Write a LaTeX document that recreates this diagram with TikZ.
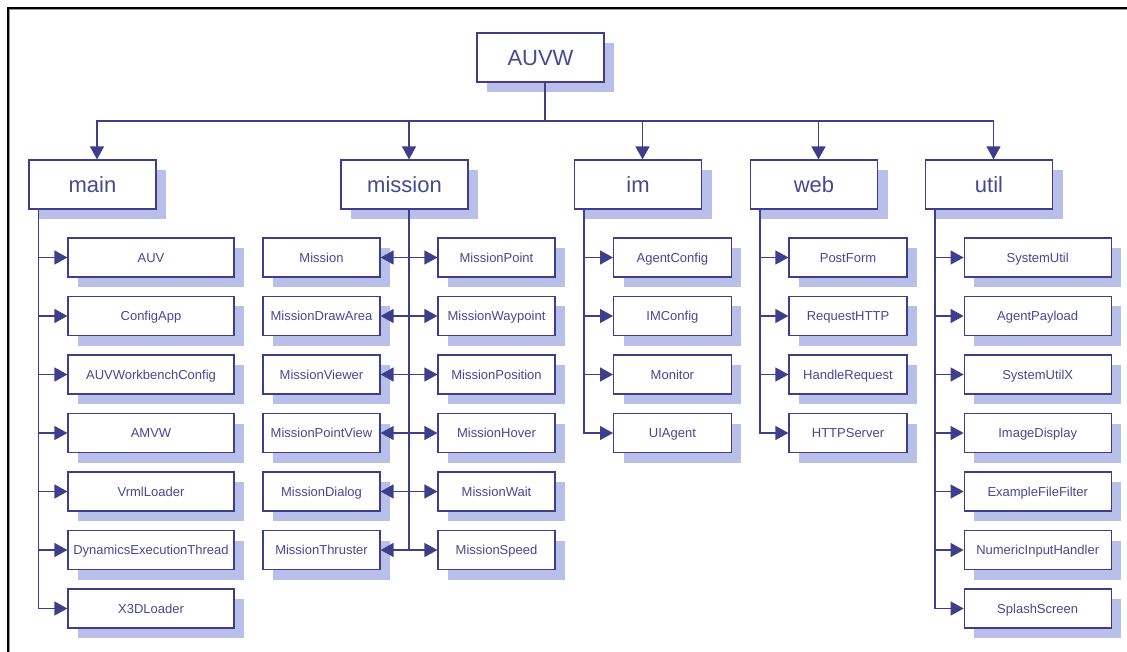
\documentclass[tikz,border=0pt]{standalone}
\usepackage{fontspec}
\setmainfont{Liberation Sans}
\usetikzlibrary{arrows.meta,shadows,calc}
\definecolor{navy}{RGB}{62,62,140}
\definecolor{shade}{RGB}{184,192,234}
\definecolor{txt}{RGB}{72,72,146}
\begin{document}
\begin{tikzpicture}[x=1pt,y=-1pt,
  box/.style={draw=navy,line width=1.2pt,fill=white,text=txt,inner sep=0pt,
     drop shadow={shadow xshift=10pt,shadow yshift=-10pt,fill=shade,opacity=1}},
  pkg/.style={box,minimum width=127pt,minimum height=49pt,font=\fontsize{22}{26}\selectfont,
     text height=15.8pt,text depth=0pt},
  cls/.style={box,minimum width=117pt,minimum height=39pt,font=\fontsize{13}{15}\selectfont,
     text height=9.3pt,text depth=0pt},
  link/.style={draw=navy,line width=1.3pt},
  arr/.style={link,-{Triangle[length=13pt,width=14pt]}},
]
\useasboundingbox (0,0) rectangle (1127,652);
\fill[white] (0,0) rectangle (1127,652);
% frame
\draw[black!40,line width=1pt] (9.5,652) -- (9.5,9.5) -- (1127,9.5);
\draw[black,line width=2pt] (8,652) -- (8,8) -- (1127,8);

% top and packages
\node[pkg] (auvw) at (540.5,57.5) {AUVW};
\node[pkg] (main) at (92.5,184.5) {main};
\node[pkg] (mission) at (404.5,184.5) {mission};
\node[pkg] (im) at (638,184.5) {im};
\node[pkg] (web) at (814,184.5) {web};
\node[pkg] (util) at (989,184.5) {util};

\coordinate (busc) at (545,121);
\draw[link] ($(auvw.south)+(4.5,0)$) -- (busc);
\foreach \p in {main,mission,im,web,util}{
  \draw[arr] (busc) -| ($(\p.north)+(4.5,0)$);
}

% roots of the branch lines
\coordinate (mainroot) at ($(main.south west)+(10,0)$);
\coordinate (imroot) at ($(im.south west)+(10,0)$);
\coordinate (webroot) at ($(web.south west)+(10,0)$);
\coordinate (utilroot) at ($(util.south west)+(10,0)$);
\coordinate (missroot) at ($(mission.south)+(4.5,0)$);

% main
\foreach \n [count=\i from 0] in {AUV,ConfigApp,AUVWorkbenchConfig,AMVW,VrmlLoader,DynamicsExecutionThread,X3DLoader}{
  \node[cls,minimum width=166pt] (main\i) at (151,257.5+58.5*\i) {\n};
  \draw[arr] (mainroot) |- (main\i.west);
}

% mission
\foreach \n [count=\i from 0] in {Mission,MissionDrawArea,MissionViewer,MissionPointView,MissionDialog,MissionThruster}{
  \node[cls] (ml\i) at (321.5,257.5+58.5*\i) {\n};
}
\foreach \n [count=\i from 0] in {MissionPoint,MissionWaypoint,MissionPosition,MissionHover,MissionWait,MissionSpeed}{
  \node[cls] (mr\i) at (496.5,257.5+58.5*\i) {\n};
}
\draw[link] (missroot) -- (missroot |- ml5.east);
\foreach \i in {0,...,5}{
  \draw[arr] (missroot |- ml\i.east) -- (ml\i.east);
  \draw[arr] (missroot |- mr\i.west) -- (mr\i.west);
}

% im
\foreach \n [count=\i from 0] in {AgentConfig,IMConfig,Monitor,UIAgent}{
  \node[cls,minimum width=117.6pt] (im\i) at (672.4,257.5+58.5*\i) {\n};
  \draw[arr] (imroot) |- (im\i.west);
}

% web
\foreach \n [count=\i from 0] in {PostForm,RequestHTTP,HandleRequest,HTTPServer}{
  \node[cls,minimum width=118pt] (web\i) at (848,257.5+58.5*\i) {\n};
  \draw[arr] (webroot) |- (web\i.west);
}

% util
\foreach \n [count=\i from 0] in {SystemUtil,AgentPayload,SystemUtilX,ImageDisplay,ExampleFileFilter,NumericInputHandler,SplashScreen}{
  \node[cls,minimum width=147pt] (util\i) at (1037.7,257.5+58.5*\i) {\n};
  \draw[arr] (utilroot) |- (util\i.west);
}
\end{tikzpicture}
\end{document}
